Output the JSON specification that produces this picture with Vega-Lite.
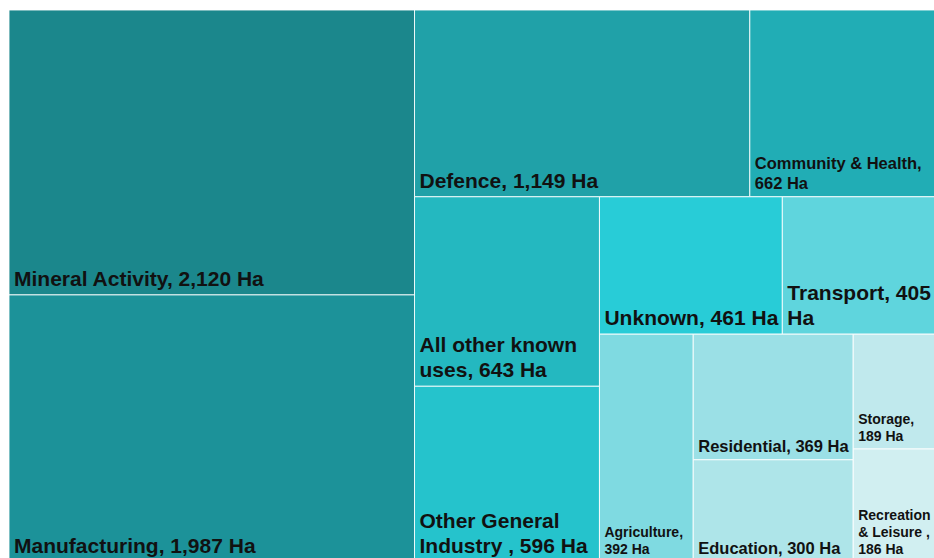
{
  "$schema": "https://vega.github.io/schema/vega-lite/v6.json",
  "width": 925,
  "height": 548,
  "autosize": {"type": "none"},
  "padding": {"left": 9, "top": 10, "right": 0, "bottom": 0},
  "background": "white",
  "config": {"view": {"stroke": null}, "text": {"clip": true, "align": "left", "baseline": "bottom", "dx": 5, "lineBreak": "\n", "font": "Liberation Sans", "fontWeight": "bold", "color": "#111111"}},
  "data": {
    "values": [
      {"category": "Mineral Activity", "value": 2120, "label": "Mineral Activity, 2,120 Ha", "x0": 0, "x1": 0.4342, "y0": 0, "y1": 0.5162},
      {"category": "Manufacturing", "value": 1987, "label": "Manufacturing, 1,987 Ha", "x0": 0, "x1": 0.4342, "y0": 0.5162, "y1": 1},
      {"category": "Defence", "value": 1149, "label": "Defence, 1,149 Ha", "x0": 0.4342, "x1": 0.7932, "y0": 0, "y1": 0.3384},
      {"category": "Community & Health", "value": 662, "label": "Community & Health,\n662 Ha", "x0": 0.7932, "x1": 1, "y0": 0, "y1": 0.3384},
      {"category": "All other known uses", "value": 643, "label": "All other known\nuses, 643 Ha", "x0": 0.4342, "x1": 0.6322, "y0": 0.3384, "y1": 0.6817},
      {"category": "Other General Industry", "value": 596, "label": "Other General\nIndustry , 596 Ha", "x0": 0.4342, "x1": 0.6322, "y0": 0.6817, "y1": 1},
      {"category": "Unknown", "value": 461, "label": "Unknown, 461 Ha", "x0": 0.6322, "x1": 0.828, "y0": 0.3384, "y1": 0.5873},
      {"category": "Transport", "value": 405, "label": "Transport, 405\nHa", "x0": 0.828, "x1": 1, "y0": 0.3384, "y1": 0.5873},
      {"category": "Agriculture", "value": 392, "label": "Agriculture,\n392 Ha", "x0": 0.6322, "x1": 0.7326, "y0": 0.5873, "y1": 1},
      {"category": "Residential", "value": 369, "label": "Residential, 369 Ha", "x0": 0.7326, "x1": 0.9039, "y0": 0.5873, "y1": 0.8149},
      {"category": "Education", "value": 300, "label": "Education, 300 Ha", "x0": 0.7326, "x1": 0.9039, "y0": 0.8149, "y1": 1},
      {"category": "Storage", "value": 189, "label": "Storage,\n189 Ha", "x0": 0.9039, "x1": 1, "y0": 0.5873, "y1": 0.7953},
      {"category": "Recreation & Leisure", "value": 186, "label": "Recreation\n& Leisure ,\n186 Ha", "x0": 0.9039, "x1": 1, "y0": 0.7953, "y1": 1}
    ]
  },
  "encoding": {
    "x": {"field": "x0", "type": "quantitative", "scale": {"domain": [0, 0.9904], "nice": false, "zero": false}, "axis": null},
    "y": {"field": "y1", "type": "quantitative", "scale": {"domain": [0, 0.9928], "nice": false, "zero": false, "reverse": true}, "axis": null},
    "text": {"field": "label", "type": "nominal"}
  },
  "layer": [
    {
      "mark": {"type": "rect", "clip": true, "stroke": "#ffffff", "strokeWidth": 1, "strokeOpacity": 0.85},
      "encoding": {
        "x": {"field": "x0", "type": "quantitative"},
        "x2": {"field": "x1"},
        "y": {"field": "y0", "type": "quantitative"},
        "y2": {"field": "y1"},
        "text": null,
        "color": {
          "field": "category",
          "type": "nominal",
          "legend": null,
          "scale": {
            "domain": ["Mineral Activity", "Manufacturing", "Defence", "Community & Health", "All other known uses", "Other General Industry", "Unknown", "Transport", "Agriculture", "Residential", "Education", "Storage", "Recreation & Leisure"],
            "range": ["#1b878c", "#1c9299", "#20a1a8", "#21adb5", "#24b8c0", "#25c3cc", "#28ccd7", "#5fd5dd", "#7fdae1", "#9be0e6", "#aee5e9", "#c0e9ed", "#d1eff1"]
          }
        }
      }
    },
    {
      "transform": [{"filter": {"field": "category", "oneOf": ["Mineral Activity", "Manufacturing", "Defence", "Unknown"]}}],
      "mark": {"type": "text", "dy": -5, "lineHeight": 25, "fontSize": 21}
    },
    {
      "transform": [{"filter": {"field": "category", "oneOf": ["All other known uses", "Other General Industry", "Transport"]}}],
      "mark": {"type": "text", "dy": -30, "lineHeight": 25, "fontSize": 21}
    },
    {
      "transform": [{"filter": {"field": "category", "oneOf": ["Residential", "Education"]}}],
      "mark": {"type": "text", "dy": -5, "lineHeight": 20, "fontSize": 16.5}
    },
    {
      "transform": [{"filter": {"field": "category", "oneOf": ["Community & Health"]}}],
      "mark": {"type": "text", "dy": -25, "lineHeight": 20, "fontSize": 16.5}
    },
    {
      "transform": [{"filter": {"field": "category", "oneOf": ["Agriculture", "Storage"]}}],
      "mark": {"type": "text", "dy": -22, "lineHeight": 17, "fontSize": 14}
    },
    {
      "transform": [{"filter": {"field": "category", "oneOf": ["Recreation & Leisure"]}}],
      "mark": {"type": "text", "dy": -39, "lineHeight": 17, "fontSize": 14}
    }
  ]
}
